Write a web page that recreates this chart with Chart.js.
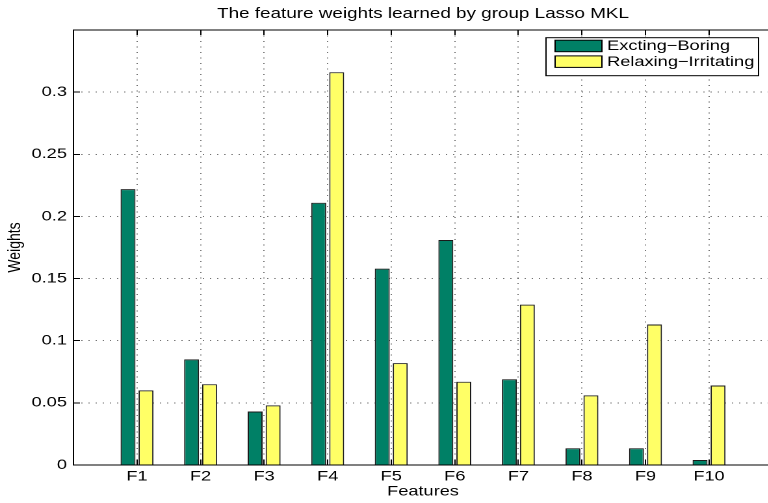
<!DOCTYPE html>
<html>
<head>
<meta charset="utf-8">
<script src="https://cdn.jsdelivr.net/npm/chart.js@4"></script>
<style>
  html, body { margin: 0; padding: 0; overflow: hidden; background: #fff; }
  /* the reference is a horizontally stretched MATLAB figure */
  #wrap { width: 600px; height: 503px; transform: scaleX(1.3); transform-origin: 0 0; }
</style>
</head>
<body>
<div id="wrap"><canvas id="myChart" width="600" height="503"></canvas></div>
<script>
var categories = ["F1", "F2", "F3", "F4", "F5", "F6", "F7", "F8", "F9", "F10"];
var excitingBoring = [0.222, 0.085, 0.043, 0.211, 0.158, 0.181, 0.069, 0.0135, 0.0135, 0.004];
var relaxingIrritating = [0.060, 0.065, 0.048, 0.316, 0.082, 0.067, 0.129, 0.056, 0.113, 0.064];
var yTicks = [0, 0.05, 0.1, 0.15, 0.2, 0.25, 0.3];
var yTickLabels = ["0", "0.05", "0.1", "0.15", "0.2", "0.25", "0.3"];

Chart.defaults.font.family = "'Liberation Sans', Arial, sans-serif";
Chart.defaults.color = "#000";

function points(values) {
    return values.map(function (v, i) { return { x: i + 1, y: v }; });
}
function xTicks(scale) {
    scale.ticks = categories.map(function (c, i) { return { value: i + 1 }; });
}

// MATLAB style legend box inside the axes
var boxLegend = {
    id: 'boxLegend',
    afterDraw: function (chart) {
        var c = chart.ctx;
        var x = 420, y = 37.7, w = 163.5, h = 38;
        c.save();
        c.fillStyle = '#fff';
        c.fillRect(x, y, w, h);
        c.strokeStyle = '#000';
        c.lineWidth = 1;
        c.strokeRect(x, y, w, h);
        c.font = "14px 'Liberation Sans', Arial, sans-serif";
        c.textBaseline = 'middle';
        chart.data.datasets.forEach(function (ds, i) {
            var ry = y + 2.5 + i * 15.7;
            c.fillStyle = ds.backgroundColor;
            c.fillRect(x + 7, ry, 36, 11.5);
            c.strokeStyle = '#000';
            c.strokeRect(x + 7, ry, 36, 11.5);
            c.fillStyle = '#000';
            c.fillText(ds.label, x + 47, ry + 6);
        });
        c.restore();
    }
};

var ctx = document.getElementById("myChart");
var myChart = new Chart(ctx, {
    type: 'bar',
    data: {
        datasets: [{
            label: 'Excting\u2212Boring',
            data: points(excitingBoring),
            backgroundColor: '#008066',
            borderColor: '#1a1a1a',
            borderWidth: 1
        }, {
            label: 'Relaxing\u2212Irritating',
            data: points(relaxingIrritating),
            backgroundColor: '#ffff66',
            borderColor: '#1a1a1a',
            borderWidth: 1
        }]
    },
    options: {
        responsive: false,
        animation: false,
        devicePixelRatio: 2,
        categoryPercentage: 0.566,
        barPercentage: 0.83,
        layout: { padding: { left: 0, right: 5.7, top: 0, bottom: 0 } },
        plugins: {
            legend: { display: false },
            tooltip: { enabled: false },
            title: {
                display: true,
                fullSize: false,
                text: 'The feature weights learned by group Lasso MKL',
                font: { size: 14.5, weight: 'normal' },
                padding: { top: 5.3, bottom: 7.3 }
            }
        },
        scales: {
            x: {
                type: 'linear',
                position: 'bottom',
                min: 0,
                max: 11,
                offset: false,
                afterBuildTicks: xTicks,
                afterFit: function (s) { s.height = 38; },
                ticks: {
                    padding: 8,
                    font: { size: 14 },
                    callback: function (v) { return categories[v - 1]; }
                },
                grid: { offset: false, color: 'rgba(0,0,0,0.55)', tickLength: -5, tickColor: '#000' },
                border: { color: '#000', width: 1, dash: [1, 4.5] },
                title: { display: true, text: 'Features', font: { size: 14 }, padding: { bottom: 3 } }
            },
            x2: {
                type: 'linear',
                position: 'top',
                min: 0,
                max: 11,
                offset: false,
                afterBuildTicks: xTicks,
                afterFit: function (s) { s.height = 0; },
                ticks: { display: false },
                grid: { offset: false, drawOnChartArea: false, tickLength: -5, tickColor: '#000' },
                border: { color: '#000', width: 1 }
            },
            y: {
                min: 0,
                max: 0.35,
                afterBuildTicks: function (s) {
                    s.ticks = yTicks.map(function (v) { return { value: v }; });
                },
                afterFit: function (s) { s.width = 56.5; },
                ticks: {
                    padding: 10,
                    font: { size: 14 },
                    callback: function (v) { return yTickLabels[yTicks.indexOf(v)]; }
                },
                grid: { color: 'rgba(0,0,0,0.55)', tickLength: -5, tickColor: '#000' },
                border: { color: '#000', width: 1, dash: [1, 4.5] },
                title: { display: true, text: 'Weights', font: { size: 14 }, padding: { top: 3 } }
            }
        }
    },
    plugins: [boxLegend]
});
</script>
</body>
</html>
